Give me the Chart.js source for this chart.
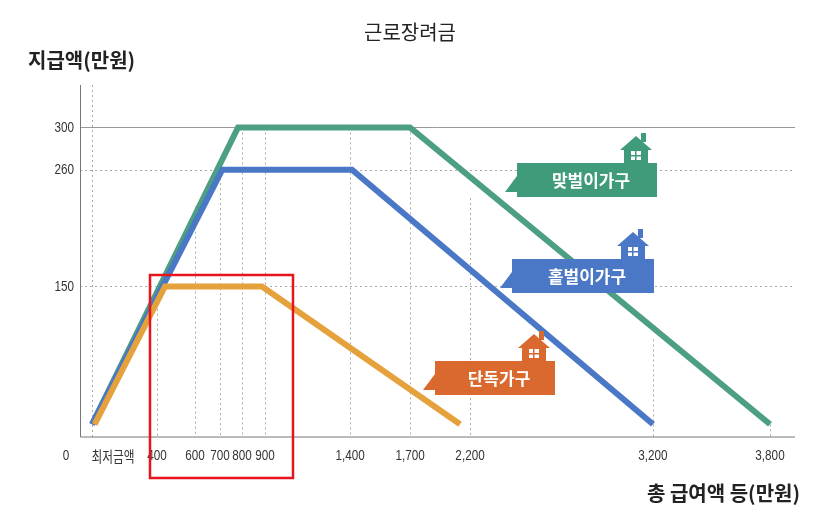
<!DOCTYPE html>
<html><head><meta charset="utf-8">
<script src="https://cdn.jsdelivr.net/npm/chart.js@4/dist/chart.umd.min.js"></script>
<style>html,body{margin:0;background:#fff}#w{width:817px;height:517px}</style>
</head><body><div id="w"><canvas id="c"></canvas></div>
<script>
// data (만원)
const dualX = [100, 782, 1700, 3800];
const dualY = [20, 300, 300, 20];
const singleX = [100, 710, 1410, 3200];
const singleY = [20, 260, 260, 20];
const aloneX = [112, 442, 887, 2117];
const aloneY = [20, 150, 150, 20];
const xTickValues = [0, 100, 400, 600, 700, 800, 900, 1400, 1700, 2200, 3200, 3800];
const xTickLabels = ['0', '최저금액', '400', '600', '700', '800', '900', '1,400', '1,700', '2,200', '3,200', '3,800'];
const yTickValues = [150, 260, 300];
const yTickLabels = ['150', '260', '300'];
const seriesNames = ['맞벌이가구', '홑벌이가구', '단독가구'];

// nonuniform x-scale configuration (value -> fraction of axis)
const BREAK_VALUES = [0, 100, 400, 600, 700, 800, 900, 1400, 1700, 2200, 3200, 3800, 4000];
const BREAK_FRACS = [0, 0.0357, 0.1248, 0.1770, 0.2112, 0.2414, 0.2730, 0.3896, 0.4719, 0.5542, 0.8052, 0.9657, 1];

class PiecewiseScale extends Chart.LinearScale {
  getPixelForValue(v) {
    let i = 0;
    while (i < BREAK_VALUES.length - 2 && v > BREAK_VALUES[i + 1]) i++;
    const t = (v - BREAK_VALUES[i]) / (BREAK_VALUES[i + 1] - BREAK_VALUES[i]);
    const f = BREAK_FRACS[i] + t * (BREAK_FRACS[i + 1] - BREAK_FRACS[i]);
    return this.getPixelForDecimal(f);
  }
}
PiecewiseScale.id = 'piecewise';
PiecewiseScale.defaults = Chart.LinearScale.defaults;
Chart.register(PiecewiseScale);

const pts = (xs, ys) => xs.map((x, i) => ({x, y: ys[i]}));
const KR = '"Noto Sans CJK KR", sans-serif';
const NUM = '"Liberation Sans", sans-serif';

function interp(xs, ys, v) {
  if (v < xs[0] || v > xs[xs.length - 1]) return 0;
  for (let i = 0; i < xs.length - 1; i++) if (v <= xs[i + 1]) return ys[i] + (v - xs[i]) / (xs[i + 1] - xs[i]) * (ys[i + 1] - ys[i]);
  return 0;
}
function house(ctx, x, y, col) {
  ctx.save();
  ctx.fillStyle = col;
  ctx.fillRect(x + 18, y - 3, 5, 9);
  ctx.beginPath(); ctx.moveTo(x - 3, y + 14); ctx.lineTo(x + 13, y); ctx.lineTo(x + 29, y + 14); ctx.closePath(); ctx.fill();
  ctx.fillRect(x + 1, y + 12, 24, 16);
  ctx.fillStyle = '#fff';
  ctx.fillRect(x + 8, y + 15, 10, 9);
  ctx.fillStyle = col;
  ctx.fillRect(x + 12, y + 15, 1.5, 9); ctx.fillRect(x + 8, y + 19, 10, 1.5);
  ctx.restore();
}
function tag(ctx, x, y, w, h, col, text) {
  ctx.save();
  ctx.fillStyle = col;
  ctx.beginPath();
  ctx.moveTo(x - 12, y + h * 0.85); ctx.lineTo(x + 2, y + h * 0.3); ctx.lineTo(x + 2, y + h * 0.85); ctx.closePath(); ctx.fill();
  ctx.fillRect(x, y, w, h);
  ctx.fillStyle = '#fff'; ctx.font = 'bold 17px ' + KR;
  ctx.textAlign = 'center'; ctx.textBaseline = 'middle';
  ctx.fillText(text, x + w / 2 + 4, y + h / 2 + 1);
  ctx.restore();
  house(ctx, x + w - 34, y - 27, col);
}

const deco = {
  id: 'deco',
  beforeDatasetsDraw(chart) {
    const {ctx, chartArea: a, scales: {x, y}} = chart;
    ctx.save();
    ctx.strokeStyle = '#aaa'; ctx.lineWidth = 1; ctx.setLineDash([2, 3]);
    xTickValues.slice(1).forEach((v, i) => {
      const px = Math.round(x.getPixelForValue(v)) + 0.5;
      const top = i === 0 ? a.top : y.getPixelForValue(Math.max(interp(dualX, dualY, v), interp(singleX, singleY, v), interp(aloneX, aloneY, v)));
      ctx.beginPath(); ctx.moveTo(px, top); ctx.lineTo(px, a.bottom); ctx.stroke();
    });
    [150, 260].forEach(v => { const py = Math.round(y.getPixelForValue(v)) + 0.5; ctx.beginPath(); ctx.moveTo(80, py); ctx.lineTo(a.right, py); ctx.stroke(); });
    ctx.setLineDash([]);
    ctx.strokeStyle = '#999';
    let py = Math.round(y.getPixelForValue(300)) + 0.5;
    ctx.beginPath(); ctx.moveTo(80, py); ctx.lineTo(a.right, py); ctx.stroke();
    ctx.strokeStyle = '#777';
    ctx.beginPath(); ctx.moveTo(80.5, a.top); ctx.lineTo(80.5, a.bottom); ctx.lineTo(a.right, a.bottom); ctx.stroke();
    ctx.fillStyle = '#333'; ctx.textBaseline = 'middle';
    const narrow = (txt, px, py, font, align) => {
      ctx.save(); ctx.translate(px, py); ctx.scale(0.78, 1); ctx.font = font; ctx.textAlign = align;
      ctx.fillText(txt, 0, 0); ctx.restore();
    };
    yTickValues.forEach((v, i) => narrow(yTickLabels[i], 74, y.getPixelForValue(v), '15px ' + NUM, 'right'));
    xTickValues.forEach((v, i) => {
      let px = x.getPixelForValue(v);
      if (i === 1) narrow(xTickLabels[i], px + 21, a.bottom + 19, '15px ' + KR, 'center');
      else narrow(xTickLabels[i], px, a.bottom + 19, '15px ' + NUM, 'center');
    });
    ctx.restore();
  },
  afterDatasetsDraw(chart) {
    const {ctx} = chart;
    ctx.save();
    ctx.fillStyle = '#222'; ctx.textBaseline = 'middle';
    ctx.font = '20px ' + KR; ctx.textAlign = 'center'; ctx.fillText('근로장려금', 410, 32);
    ctx.font = 'bold 20px ' + KR; ctx.textAlign = 'left'; ctx.fillText('지급액(만원)', 28, 60);
    ctx.textAlign = 'right'; ctx.fillText('총 급여액 등(만원)', 800, 493);
    ctx.strokeStyle = '#e8141c'; ctx.lineWidth = 2.5; ctx.strokeRect(150, 275, 143, 203);
    ctx.restore();
    tag(ctx, 517, 163, 140, 34, '#3f9b79', seriesNames[0]);
    tag(ctx, 512, 259, 142, 34, '#4a78c6', seriesNames[1]);
    tag(ctx, 435, 361, 120, 34, '#d9692f', seriesNames[2]);
  }
};

new Chart(document.getElementById('c'), {
  type: 'scatter',
  data: { datasets: [
    { label: seriesNames[0], data: pts(dualX, dualY), borderColor: '#4d9f82', order: 3 },
    { label: seriesNames[1], data: pts(singleX, singleY), borderColor: '#4a78c6', order: 2 },
    { label: seriesNames[2], data: pts(aloneX, aloneY), borderColor: '#e5a23c', order: 1 }
  ].map(d => Object.assign(d, { showLine: true, borderWidth: 6, pointRadius: 0, borderJoinStyle: 'miter', fill: false })) },
  options: {
    responsive: true, maintainAspectRatio: false, animation: false, events: [],
    layout: { padding: { left: 66, right: 22, top: 85, bottom: 80 } },
    plugins: { legend: { display: false }, tooltip: { enabled: false } },
    scales: {
      x: { type: 'piecewise', min: 0, max: 4000, display: false },
      y: { type: 'linear', min: 8, max: 340, display: false }
    }
  },
  plugins: [deco]
});
</script></body></html>
